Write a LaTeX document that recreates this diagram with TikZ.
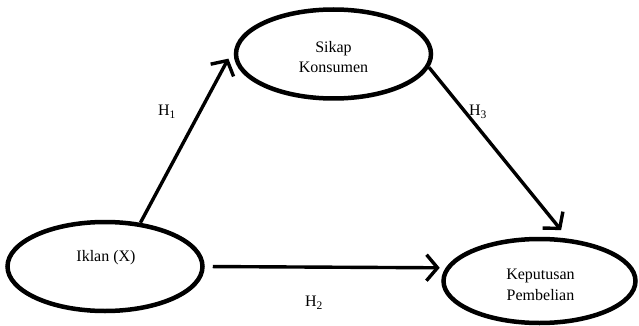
\documentclass[tikz,border=0pt]{standalone}
\usepackage{fontspec}
\setmainfont{Liberation Serif}
\usetikzlibrary{shapes.geometric,arrows.meta,calc}

\tikzset{
  construct/.style={draw, ellipse, line width=4.5pt, inner sep=0pt,
    minimum width=195pt, minimum height=89pt},
  caption/.style={font=\fontsize{16}{20.5}\selectfont, align=center, inner sep=0pt},
  hyp/.style={font=\fontsize{16}{18}\selectfont, inner sep=0pt},
  path arrow/.style={line width=3.4pt,
    -{Straight Barb[length=11pt,width=26pt,line width=3.4pt]}},
}
\newcommand{\hsub}[1]{H\textsubscript{\fontsize{11.5}{11.5}\selectfont #1}}

\begin{document}
\begin{tikzpicture}[x=1pt,y=-1pt]
  \useasboundingbox (0,0) rectangle (639,326);

  % the three constructs
  \node[construct] (sikap) at (333.5,54) {};
  \node[construct] (iklan) at (105,266.5) {};
  \node[construct, minimum width=192pt, minimum height=84pt] (keputusan) at (539.5,281) {};

  \node[caption] (tsikap) at ($(sikap)+(0,3)$) {Sikap\\Konsumen};
  \node[caption] (tiklan) at ($(iklan)+(1,-9)$) {Iklan (X)};
  \node[caption] (tkeputusan) at ($(keputusan)+(1,4)$) {Keputusan\\Pembelian};

  % hypothesised paths
  \draw[path arrow, shorten >=15pt] (iklan.51) -- (sikap.175);
  \draw[path arrow, shorten >=11pt] (sikap.-8) -- (keputusan.56);
  \draw[path arrow, shorten <=8pt, shorten >=6pt] (iklan.0) -- (keputusan.172);

  % path labels
  \node[hyp] (h1) at (167,112) {\hsub{1}};
  \node[hyp] (h3) at (478,112) {\hsub{3}};
  \node[hyp] (h2) at (314,303) {\hsub{2}};
\end{tikzpicture}
\end{document}
